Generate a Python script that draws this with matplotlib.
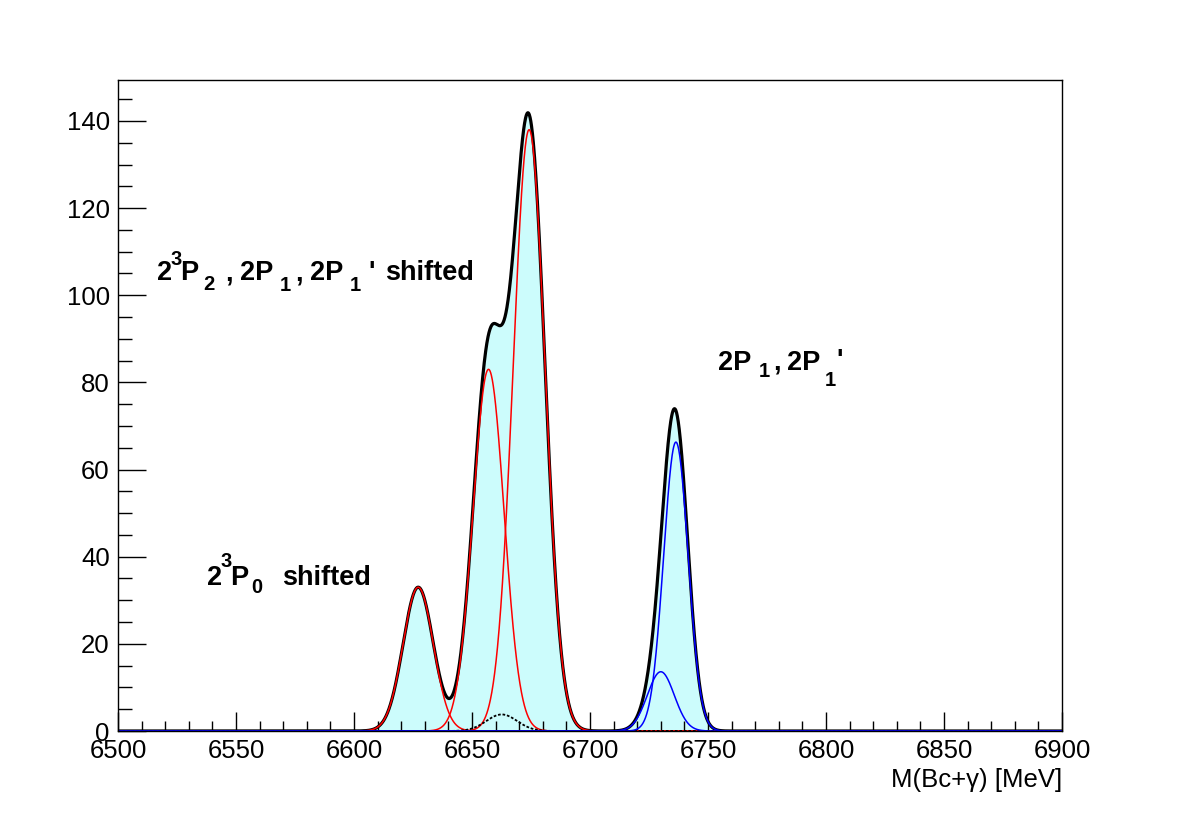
import numpy as np
import matplotlib.pyplot as plt
from matplotlib.ticker import MultipleLocator

plt.rcParams['font.family'] = ['Liberation Sans', 'DejaVu Sans']

# Gaussian components: centre [MeV], height, sigma [MeV]
red_centres = [6627.2, 6657.0, 6674.2]
red_heights = [33.0, 83.0, 138.0]
red_sigmas = [6.4, 6.6, 6.75]

dash_centre = 6662.6
dash_height = 3.8
dash_sigma = 6.5

blue_centres = [6736.4, 6730.0]
blue_heights = [66.3, 13.6]
blue_sigmas = [5.2, 5.7]

x_range = (6500, 6900)
y_max = 149.4


def gauss(m, c, h, s):
    return h * np.exp(-0.5 * ((m - c) / s) ** 2)


mass = np.linspace(x_range[0], x_range[1], 4001)
reds = [gauss(mass, c, h, s) for c, h, s in zip(red_centres, red_heights, red_sigmas)]
blues = [gauss(mass, c, h, s) for c, h, s in zip(blue_centres, blue_heights, blue_sigmas)]
dashed = gauss(mass, dash_centre, dash_height, dash_sigma)
total = sum(reds) + sum(blues) + dashed

fig = plt.figure(figsize=(11.82, 8.13), dpi=100)
ax = fig.add_axes([118 / 1182, 82 / 813, 944 / 1182, 651 / 813])

# total with fill
ax.fill_between(mass, 0, total, color='#ccfcfc', lw=0)
ax.plot(mass, total, color='k', lw=2.3)

# components
for r in reds:
    ax.plot(mass, r, color='#ff0000', lw=1.1)
ax.plot(mass, dashed, color='k', lw=1.3, ls=(0, (1.5, 1)))
for b in blues:
    ax.plot(mass, b, color='#0000ff', lw=1.1)


# ROOT-like latex labels, built piece by piece (offsets in pixels)
def latex_label(x, y, pieces):
    for txt, dx, dy, size in pieces:
        ax.annotate(txt, xy=(x, y), xytext=(dx * 0.72, dy * 0.72),
                    textcoords='offset points', ha='left', va='baseline',
                    fontsize=size, fontweight='bold')


big, small = 19.5, 14.5
latex_label(6516.5, 103.5, [
    ('2', 0, 0, big), ('3', 14, 15, small), ('P', 23, 0, big),
    ('2', 46, -10, small), (',', 68, 0, big),
    ('2P', 83, 0, big), ('1', 123, -11, small), (',', 138, 0, big),
    ('2P', 153, 0, big), ('1', 193, -11, small), ("'", 211, 0, big),
    ('shifted', 228, 0, big)])
latex_label(6537.7, 33.5, [
    ('2', 0, 0, big), ('3', 14, 18, small), ('P', 23, 0, big),
    ('0', 44, -8, small), ('shifted', 75, 0, big)])
latex_label(6754.2, 82.9, [
    ('2P', 0, 0, big), ('1', 41, -7, small), (',', 55, 0, big),
    ('2P', 69, 0, big), ('1', 107, -16, small), ("'", 118, 2, big)])

ax.set_xlim(*x_range)
ax.set_ylim(0, y_max)

ax.xaxis.set_major_locator(MultipleLocator(50))
ax.xaxis.set_minor_locator(MultipleLocator(10))
ax.yaxis.set_major_locator(MultipleLocator(20))
ax.yaxis.set_minor_locator(MultipleLocator(5))

ax.tick_params(axis='x', which='major', direction='in', length=14, width=1, labelsize=18.5, pad=6)
ax.tick_params(axis='x', which='minor', direction='in', length=7, width=1)
ax.tick_params(axis='y', which='major', direction='in', length=20, width=1, labelsize=18.5, pad=6)
ax.tick_params(axis='y', which='minor', direction='in', length=10, width=1)
for sp in ax.spines.values():
    sp.set_linewidth(1.0)

ax.set_xlabel("M(Bc+\u03b3) [MeV]", fontsize=18.5, loc='right', labelpad=3)

fig.savefig('out.png', dpi=100)
